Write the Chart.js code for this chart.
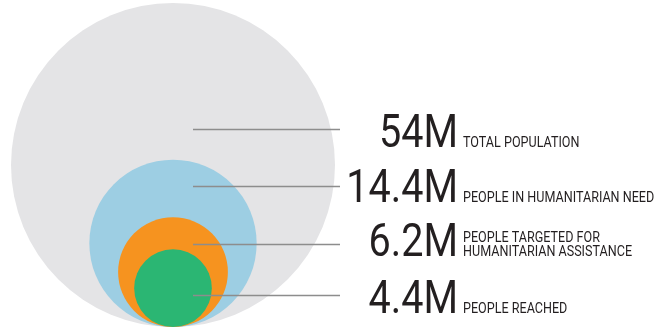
<!DOCTYPE html>
<html>
<head>
<meta charset="utf-8">
<script src="https://cdn.jsdelivr.net/npm/chart.js@4/dist/chart.umd.min.js"></script>
<style>
  html, body { margin: 0; padding: 0; background: #ffffff; }
  #wrap { width: 668px; height: 328px; position: relative; }
</style>
</head>
<body>
<div id="wrap"><canvas id="c" width="668" height="328"></canvas></div>
<script>
// ---- data ----
const categories = ["TOTAL POPULATION", "PEOPLE IN HUMANITARIAN NEED", "PEOPLE TARGETED FOR\nHUMANITARIAN ASSISTANCE", "PEOPLE REACHED"];
const valueLabels = ["54M", "14.4M", "6.2M", "4.4M"];
const values = [54, 14.4, 6.2, 4.4];            // millions of people
const circleAreas = [54, 14.4, 6.2, 3.1];       // circle areas as drawn in the reference (millions)
const colors = ["#e4e4e6", "#9dcee3", "#f6931f", "#2bb673"];

// ---- layout constants ----
const W = 668, H = 328;
const PX_PER_UNIT = 162 / Math.sqrt(circleAreas[0]);   // pixels per sqrt(million)
const CENTER_X_PX = 173, BASE_Y_PX = 327;
const leaderY = [129, 186, 244, 295];
const leaderX0 = 193, leaderX1 = 340;
const numberRight = 458, labelLeft = 463;
const baselines = [147, 202, 256, 313];
const CONDENSE = 0.86;
const LABEL_CONDENSE = 0.88;

// circle centre sits one radius above the common base; radius in px from the same scale
const points = circleAreas.map(a => ({ x: 0, y: Math.sqrt(a), r: Math.sqrt(a) * PX_PER_UNIT }));

const annotate = {
  id: 'annotate',
  afterDatasetsDraw(chart) {
    const ctx = chart.ctx;
    ctx.save();
    ctx.strokeStyle = '#8d8d8d';
    ctx.lineWidth = 1.3;
    leaderY.forEach(y => {
      ctx.beginPath();
      ctx.moveTo(leaderX0, y + 0.5);
      ctx.lineTo(leaderX1, y + 0.5);
      ctx.stroke();
    });
    ctx.fillStyle = '#231f20';
    valueLabels.forEach((t, i) => {
      const by = baselines[i];
      ctx.save();
      ctx.translate(numberRight, by);
      ctx.scale(CONDENSE, 1);
      ctx.font = '400 46px Roboto';
      ctx.textAlign = 'right';
      ctx.textBaseline = 'alphabetic';
      ctx.fillText(t, 0, 0);
      ctx.restore();
      const lines = categories[i].split('\n');
      ctx.save();
      ctx.translate(labelLeft, by);
      ctx.scale(LABEL_CONDENSE, 1);
      ctx.font = '400 14.3px Roboto';
      ctx.textAlign = 'left';
      ctx.textBaseline = 'alphabetic';
      const lh = 14;
      lines.forEach((ln, j) => {
        ctx.fillText(ln, 0, -(lines.length - 1 - j) * lh);
      });
      ctx.restore();
    });
    ctx.restore();
  }
};

new Chart(document.getElementById('c'), {
  type: 'bubble',
  data: {
    datasets: [{
      data: points,
      backgroundColor: colors,
      borderWidth: 0,
      hoverBorderWidth: 0,
      hoverRadius: 0,
      clip: false
    }]
  },
  options: {
    responsive: false,
    animation: false,
    events: [],
    layout: { padding: 0, autoPadding: false },
    plugins: { legend: { display: false }, tooltip: { enabled: false } },
    scales: {
      x: { type: 'linear', display: false, min: -CENTER_X_PX / PX_PER_UNIT, max: (W - CENTER_X_PX) / PX_PER_UNIT },
      y: { type: 'linear', display: false, min: -(H - BASE_Y_PX) / PX_PER_UNIT, max: BASE_Y_PX / PX_PER_UNIT }
    }
  },
  plugins: [annotate]
});
</script>
</body>
</html>
